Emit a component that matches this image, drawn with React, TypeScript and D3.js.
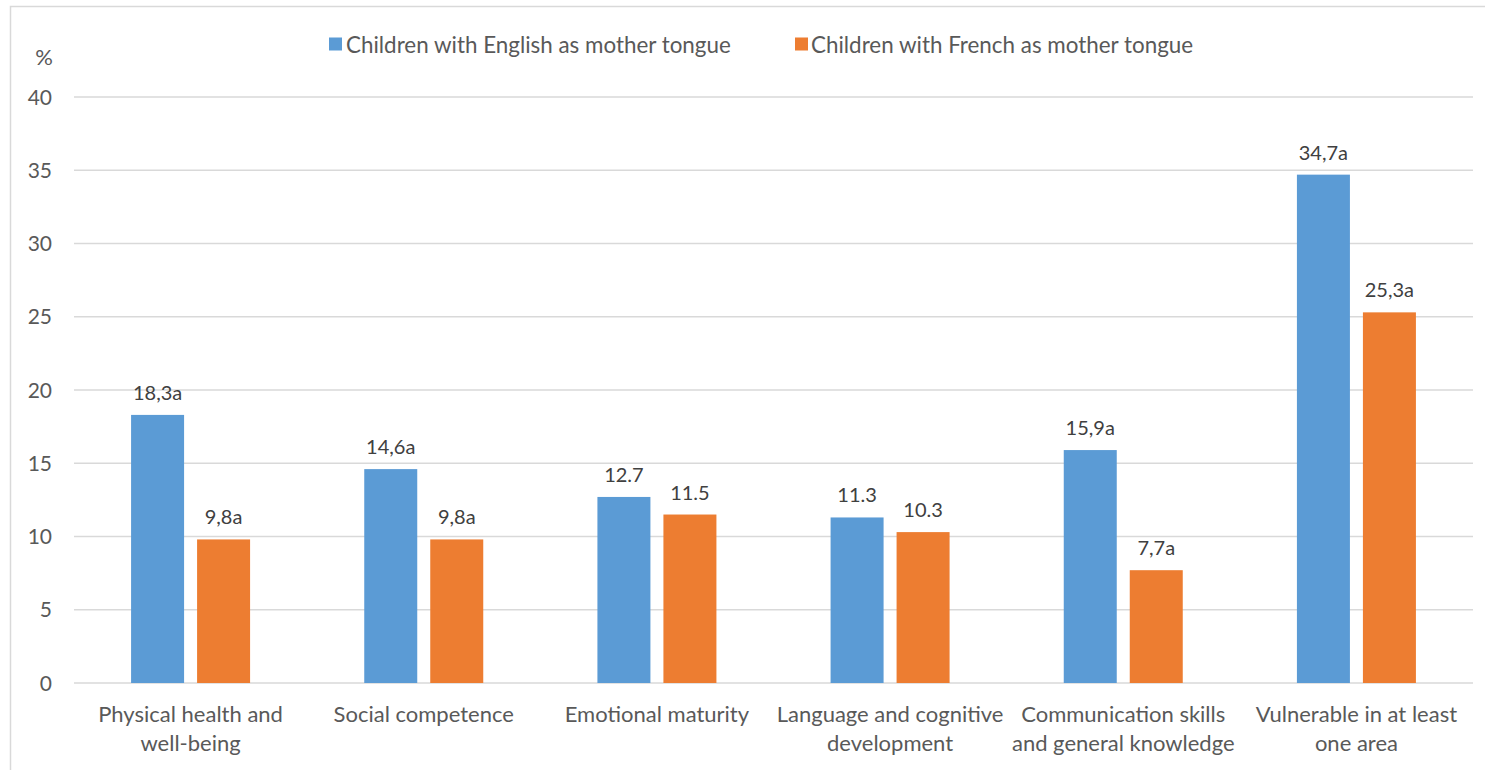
import React from "react";
import * as d3 from "d3";

const categories = [
  ["Physical health and", "well-being"],
  ["Social competence"],
  ["Emotional maturity"],
  ["Language and cognitive", "development"],
  ["Communication skills", "and general knowledge"],
  ["Vulnerable in at least", "one area"],
];
const englishValues = [18.3, 14.6, 12.7, 11.3, 15.9, 34.7];
const frenchValues = [9.8, 9.8, 11.5, 10.3, 7.7, 25.3];
const englishLabels = ["18,3a", "14,6a", "12.7", "11.3", "15,9a", "34,7a"];
const frenchLabels = ["9,8a", "9,8a", "11.5", "10.3", "7,7a", "25,3a"];
const yTicks = [0, 5, 10, 15, 20, 25, 30, 35, 40];
const seriesNames = ["Children with English as mother tongue", "Children with French as mother tongue"];
const colors = ["#5b9bd5", "#ed7d31"];

export default function App() {
  const W = 1485, H = 770;
  const left = 74, right = 1473, top = 97, bottom = 683;
  const font = "Lato, 'Open Sans', sans-serif";
  const textColor = "#595959";
  const y = d3.scaleLinear().domain([0, 40]).range([bottom, top]);
  const x0 = d3.scaleBand().domain(categories.map((_, i) => String(i))).range([left, right]);
  const barW = 53, gap = 13;
  const series = [englishValues, frenchValues];
  const labels = [englishLabels, frenchLabels];
  return (
    <svg width={W} height={H} style={{ position: "absolute", left: 0, top: 0, background: "#fff" }}>
      <rect x={10.5} y={6.5} width={W} height={H} fill="#fff" stroke="#d9d9d9" strokeWidth={1.5} />
      {yTicks.map((t) => (
        <g key={t}>
          <line x1={left} x2={right} y1={y(t)} y2={y(t)} stroke="#d9d9d9" strokeWidth={1.3} />
          <text x={52} y={y(t) + 7.5} textAnchor="end" fontSize={21} fill={textColor} fontFamily={font}>{t}</text>
        </g>
      ))}
      <text x={53} y={65} textAnchor="end" fontSize={22} fill={textColor} fontFamily={font}>%</text>
      {categories.map((c, i) => {
        const cx = x0(String(i))! + x0.bandwidth() / 2;
        return (
          <g key={i}>
            {series.map((vals, s) => {
              const bx = s === 0 ? cx - gap / 2 - barW : cx + gap / 2;
              return (
                <g key={s}>
                  <rect x={bx} y={y(vals[i])} width={barW} height={bottom - y(vals[i])} fill={colors[s]} />
                  <text x={bx + barW / 2} y={y(vals[i]) - 15} textAnchor="middle" fontSize={20} fill="#404040" fontFamily={font}>{labels[s][i]}</text>
                </g>
              );
            })}
            {c.map((line, k) => (
              <text key={k} x={cx} y={722 + k * 29} textAnchor="middle" fontSize={22} fill={textColor} fontFamily={font}>{line}</text>
            ))}
          </g>
        );
      })}
      <g>
        <rect x={329} y={37.5} width={13} height={13} fill={colors[0]} />
        <text x={346} y={52.5} fontSize={22.4} fill={textColor} fontFamily={font}>{seriesNames[0]}</text>
        <rect x={795} y={37.5} width={13} height={13} fill={colors[1]} />
        <text x={811} y={52.5} fontSize={22.4} fill={textColor} fontFamily={font}>{seriesNames[1]}</text>
      </g>
    </svg>
  );
}
